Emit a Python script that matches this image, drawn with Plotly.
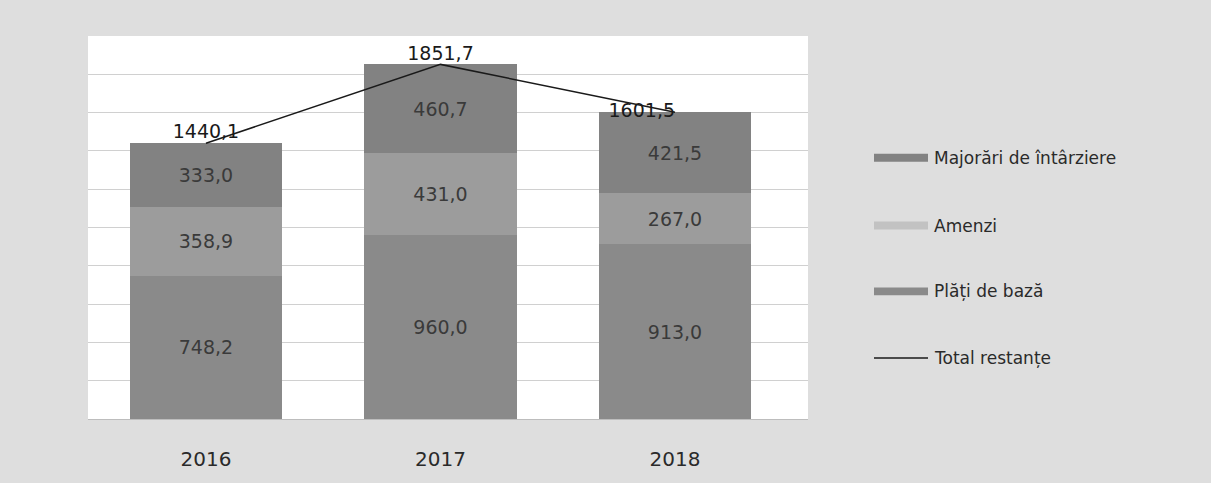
import plotly.graph_objects as go

# Arrears by year, split by component (mil. lei)
years = ["2016", "2017", "2018"]
plati_de_baza = [748.2, 960.0, 913.0]
amenzi = [358.9, 431.0, 267.0]
majorari = [333.0, 460.7, 421.5]
total_restante = [1440.1, 1851.7, 1601.5]

series_names = ["Plăți de bază", "Amenzi", "Majorări de întârziere"]
series_values = [plati_de_baza, amenzi, majorari]
series_colors = ["#8a8a8a", "#9c9c9c", "#828282"]

FONT = "DejaVu Sans"


def fmt(v):
    return f"{v:.1f}".replace(".", ",")


fig = go.Figure()

for name, vals, col in zip(series_names, series_values, series_colors):
    fig.add_trace(go.Bar(
        x=years, y=vals, name=name, width=0.65,
        marker=dict(color=col, line=dict(width=0)),
        text=[fmt(v) for v in vals],
        textposition="inside", insidetextanchor="middle",
        textfont=dict(family=FONT, size=19, color="#3a3a3a"),
        showlegend=False,
    ))

fig.add_trace(go.Scatter(
    x=years, y=total_restante, name="Total restanțe",
    mode="lines+text",
    line=dict(color="#1a1a1a", width=1.5),
    text=[fmt(v) for v in total_restante],
    textposition=["top center", "top center", "middle left"],
    textfont=dict(family=FONT, size=19, color="#1a1a1a"),
    showlegend=False,
))

# Plot area in pixels: x 88..808, y 36..426
L, R, T, B = 88, 808, 36, 426
W, H = 1211, 483


def px(x):
    return (x - L) / (R - L)


def py(y):
    return (B - y) / (B - T)


# Hand-built legend on the right
legend_items = [
    ("Majorări de întârziere", 160, "bar", series_colors[2]),
    ("Amenzi", 229, "bar", "#c2c2c2"),
    ("Plăți de bază", 296, "bar", series_colors[0]),
    ("Total restanțe", 364, "line", "#1a1a1a"),
]
for label, yc, kind, col in legend_items:
    if kind == "bar":
        fig.add_shape(type="rect", xref="paper", yref="paper",
                      x0=px(874), x1=px(928), y0=py(yc + 4), y1=py(yc - 4),
                      fillcolor=col, line=dict(width=0))
    else:
        fig.add_shape(type="line", xref="paper", yref="paper",
                      x0=px(874), x1=px(928), y0=py(yc), y1=py(yc),
                      line=dict(color=col, width=1.5))
    fig.add_annotation(xref="paper", yref="paper", x=px(932), y=py(yc),
                       text=label, showarrow=False, xanchor="left",
                       yanchor="middle",
                       font=dict(family=FONT, size=17, color="#2a2a2a"))

fig.update_layout(
    width=W, height=H,
    barmode="stack",
    paper_bgcolor="#dedede", plot_bgcolor="#ffffff",
    margin=dict(l=L, r=W - R, t=T, b=H - B),
    xaxis=dict(showgrid=False, showline=True, linecolor="#bdbdbd",
               range=[-0.503, 2.567],
               ticks="", ticklabelstandoff=22,
               tickfont=dict(family=FONT, size=20, color="#2a2a2a")),
    yaxis=dict(range=[0, 2000], dtick=200, showticklabels=False,
               showgrid=True, gridcolor="#d0d0d0", gridwidth=1,
               zeroline=False),
    showlegend=False,
)

fig.write_html("out.html")
